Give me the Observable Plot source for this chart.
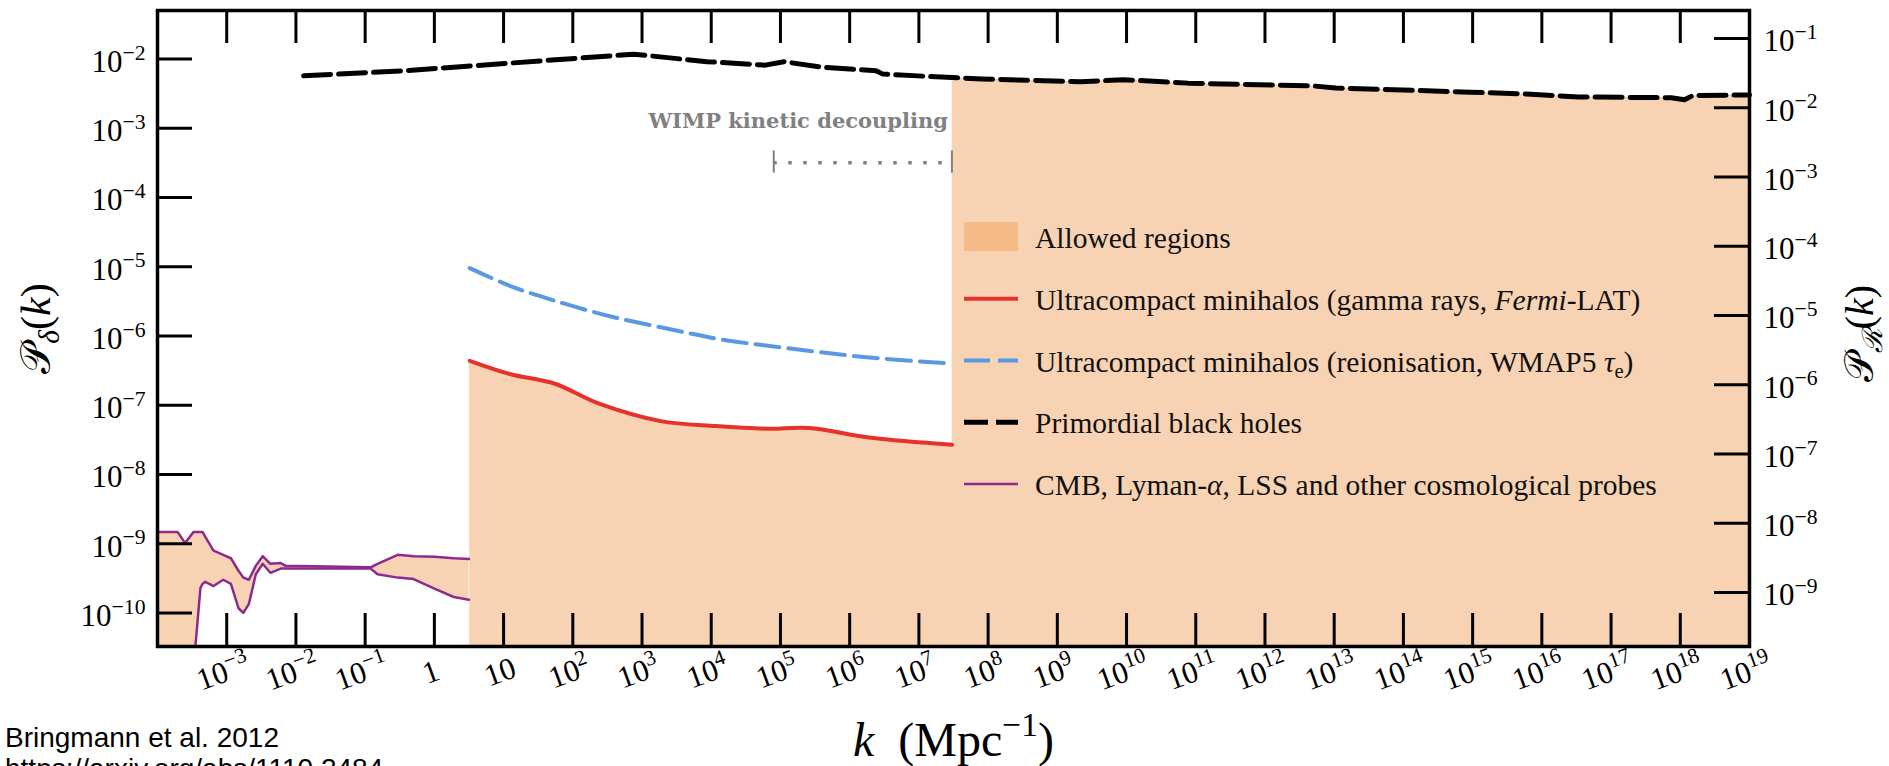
<!DOCTYPE html>
<html><head><meta charset="utf-8">
<script src="https://cdn.jsdelivr.net/npm/d3@7"></script>
<script src="https://cdn.jsdelivr.net/npm/@observablehq/plot@0.6"></script>
<style>
html,body{margin:0;padding:0;background:#fff;overflow:hidden;}
#wrap{position:relative;width:1889px;height:766px;overflow:hidden;}
#caption{position:absolute;left:5px;top:722px;font-family:"Liberation Sans",Arial,sans-serif;font-size:28px;line-height:31px;color:#000;white-space:nowrap;z-index:2;}
</style></head><body>
<div id="wrap"><div id="caption">Bringmann et al. 2012<br>https://arxiv.org/abs/1110.2484</div></div>
<script>
// ---------- data (k in Mpc^-1, P_delta dimensionless) ----------
const pbhK = [1.29e-2, 3.72e-1, 9.12, 7.59e2, 8.71e3, 6.03e4, 1.12e5, 3.98e5, 2.40e6, 3.02e6, 3.02e7, 8.13e7, 2.14e9, 8.91e9, 7.76e10, 5.01e12, 1.05e13, 9.33e14, 6.92e15, 3.39e16, 7.41e17, 1.15e18, 1.51e18, 1e19];
const pbhP = [5.69e-3, 6.76e-3, 8.51e-3, 1.17e-2, 9.12e-3, 8.13e-3, 9.12e-3, 7.59e-3, 6.76e-3, 6.03e-3, 5.37e-3, 5.13e-3, 4.68e-3, 5.01e-3, 4.47e-3, 4.07e-3, 3.80e-3, 3.31e-3, 3.09e-3, 2.82e-3, 2.75e-3, 2.57e-3, 2.95e-3, 3.02e-3];

const redK = [3.24, 12.3, 55.0, 240, 1.86e3, 1.17e4, 6.61e4, 2.57e5, 2.04e6, 3.02e7];
const redP = [4.37e-7, 2.82e-7, 2.04e-7, 1.05e-7, 5.89e-8, 5.01e-8, 4.57e-8, 4.68e-8, 3.39e-8, 2.69e-8];

const blueK = [3.24, 12.6, 53.7, 355, 2.45e3, 1.38e4, 1.12e5, 1.45e6, 3.02e7];
const blueP = [9.55e-6, 5.25e-6, 3.24e-6, 1.91e-6, 1.26e-6, 8.91e-7, 6.76e-7, 5.01e-7, 3.98e-7];

const cmbK  = [1e-4, 1.95e-4, 2.51e-4, 3.31e-4, 3.55e-4, 4.17e-4, 4.47e-4, 4.90e-4, 6.46e-4, 8.91e-4, 1.15e-3, 1.48e-3, 1.74e-3, 2.09e-3, 2.63e-3, 3.31e-3, 4.27e-3, 6.03e-3, 7.08e-3, 0.120, 0.151, 0.295, 0.501, 1.0, 1.91, 3.16];
const cmbHi = [1.48e-9, 1.48e-9, 1.02e-9, 1.48e-9, 1.48e-9, 1.48e-9, 1.48e-9, 1.26e-9, 7.94e-10, 6.92e-10, 6.17e-10, 4.07e-10, 3.24e-10, 3.02e-10, 4.79e-10, 6.61e-10, 5.13e-10, 5.25e-10, 4.79e-10, 4.57e-10, 5.13e-10, 6.92e-10, 6.61e-10, 6.46e-10, 6.17e-10, 6.03e-10];
const cmbLo = [1e-11, 1e-11, 1e-11, 1e-11, 3.55e-11, 2.29e-10, 2.63e-10, 2.82e-10, 2.45e-10, 3.02e-10, 2.63e-10, 1.17e-10, 1.0e-10, 1.35e-10, 3.63e-10, 5.13e-10, 3.80e-10, 4.37e-10, 4.37e-10, 4.37e-10, 3.63e-10, 3.24e-10, 3.09e-10, 2.24e-10, 1.70e-10, 1.55e-10];

const allowedFloor = 1e-11;
const wimpK = [8.0e4, 3.0e7];
const wimpLineP = 3.16e-4;
const wimpCapP = [2.24e-4, 4.7e-4];
const wimpTextP = 1.0e-3;
const wimpLabel = "WIMP kinetic decoupling";

// P_delta = (16/81) P_R  (right axis)
const deltaPerR = 16 / 81;

const xTicks = [1e-3,1e-2,1e-1,1,1e1,1e2,1e3,1e4,1e5,1e6,1e7,1e8,1e9,1e10,1e11,1e12,1e13,1e14,1e15,1e16,1e17,1e18,1e19];
const xTickLabels = ["10^{−3}","10^{−2}","10^{−1}","1","10","10^{2}","10^{3}","10^{4}","10^{5}","10^{6}","10^{7}","10^{8}","10^{9}","10^{10}","10^{11}","10^{12}","10^{13}","10^{14}","10^{15}","10^{16}","10^{17}","10^{18}","10^{19}"];
const yTicksLeft = [1e-2,1e-3,1e-4,1e-5,1e-6,1e-7,1e-8,1e-9,1e-10];
const yTickLabelsLeft = ["10^{−2}","10^{−3}","10^{−4}","10^{−5}","10^{−6}","10^{−7}","10^{−8}","10^{−9}","10^{−10}"];
const yTicksRight = [1e-1,1e-2,1e-3,1e-4,1e-5,1e-6,1e-7,1e-8,1e-9];
const yTickLabelsRight = ["10^{−1}","10^{−2}","10^{−3}","10^{−4}","10^{−5}","10^{−6}","10^{−7}","10^{−8}","10^{−9}"];

const legendLabels = [
  "Allowed regions",
  "Ultracompact minihalos (gamma rays, /{Fermi}-LAT)",
  "Ultracompact minihalos (reionisation, WMAP5 /{τ}_{e})",
  "Primordial black holes",
  "CMB, Lyman-/{α}, LSS and other cosmological probes"
];

// ---------- styling ----------
const F = "'Liberation Serif', 'DejaVu Serif', serif";
const FILL = "#F8D3B3", PATCH = "#F4BA88";
const RED = "#E5322B", BLUE = "#5A98E3", PURPLE = "#8C2A8E", GRAY = "#808080";
const W = 1889 - 157 - 140, H = 766 - 10 - 120;

// ---------- tables ----------
const pbh = pbhK.map((k, i) => ({k, p: pbhP[i]}));
const red = redK.map((k, i) => ({k, p: redP[i]}));
const blue = blueK.map((k, i) => ({k, p: blueP[i]}));
const cmb = cmbK.map((k, i) => ({k, hi: cmbHi[i], lo: cmbLo[i]}));
const redEnd = redK[redK.length - 1];
const allowed = [...red, ...pbh.filter(d => d.k >= redEnd)];

const svg = Plot.plot({
  width: 1889, height: 766,
  marginLeft: 157, marginRight: 140, marginTop: 10, marginBottom: 120,
  x: {type: "log", domain: [1e-4, 1e19], axis: null},
  y: {type: "log", domain: [3.28e-11, 5.0e-2], axis: null},
  style: {fontFamily: F, background: "transparent", overflow: "visible"},
  marks: [
    Plot.areaY(allowed, {x: "k", y1: () => allowedFloor, y2: "p", fill: FILL, clip: true}),
    Plot.areaY(cmb, {x: "k", y1: "lo", y2: "hi", fill: FILL, clip: true}),
    // WIMP annotation
    Plot.ruleY([wimpLineP], {y: d => d, x1: () => wimpK[0], x2: () => wimpK[1], stroke: GRAY, strokeWidth: 3.5, strokeDasharray: "3.5,11.5"}),
    Plot.ruleX(wimpK, {x: d => d, y1: () => wimpCapP[0], y2: () => wimpCapP[1], stroke: GRAY, strokeWidth: 2}),
    Plot.text([wimpLabel], {x: () => wimpK[1], y: () => wimpTextP, text: d => d, textAnchor: "end", lineAnchor: "bottom", dx: -4, fontFamily: "'DejaVu Serif', serif", fontWeight: "bold", fontSize: 21, fill: GRAY}),
    // constraint lines
    Plot.line(cmb, {x: "k", y: "hi", stroke: PURPLE, strokeWidth: 2.5, clip: true}),
    Plot.line(cmb, {x: "k", y: "lo", stroke: PURPLE, strokeWidth: 2.5, clip: true}),
    Plot.line(blue, {x: "k", y: "p", stroke: BLUE, strokeWidth: 4, strokeDasharray: "24,9", curve: "catmull-rom"}),
    Plot.line(red, {x: "k", y: "p", stroke: RED, strokeWidth: 4, curve: "catmull-rom"}),
    Plot.line(pbh, {x: "k", y: "p", stroke: "black", strokeWidth: 5, strokeDasharray: "27,8"}),
    // ticks (inward)
    Plot.tickX(xTicks, {x: d => d, insetTop: H - 33, stroke: "black", strokeWidth: 3}),
    Plot.tickX(xTicks, {x: d => d, insetBottom: H - 33, stroke: "black", strokeWidth: 3}),
    Plot.tickY(yTicksLeft, {y: d => d, insetRight: W - 35, stroke: "black", strokeWidth: 3}),
    Plot.tickY(yTicksRight, {y: d => d * deltaPerR, insetLeft: W - 35, stroke: "black", strokeWidth: 3}),
    Plot.frame({stroke: "black", strokeWidth: 3.5}),
    // tick labels
    Plot.text(xTicks, {x: d => d, text: (d, i) => xTickLabels[i], frameAnchor: "bottom", dy: 35, rotate: -20, textAnchor: "middle", fontSize: 31, fill: "black"}),
    Plot.text(yTicksLeft, {y: d => d, text: (d, i) => yTickLabelsLeft[i], frameAnchor: "left", dx: -12, dy: 13, lineAnchor: "bottom", textAnchor: "end", fontSize: 31, fill: "black"}),
    Plot.text(yTicksRight, {y: d => d * deltaPerR, text: (d, i) => yTickLabelsRight[i], frameAnchor: "right", dx: 14, dy: 13, lineAnchor: "bottom", textAnchor: "start", fontSize: 31, fill: "black"}),
    // axis titles
    Plot.text(["𝒫~{δ}(/{k})"], {text: d => d, frameAnchor: "left", dx: -121, rotate: -90, textAnchor: "middle", fontSize: 42, fill: "black"}),
    Plot.text(["𝒫~{ℛ}(/{k})"], {text: d => d, frameAnchor: "right", dx: 111, dy: 5, rotate: -90, textAnchor: "middle", fontSize: 40, fill: "black"}),
    Plot.text(["/{k}  (Mpc^{−1})"], {text: d => d, frameAnchor: "bottom", dy: 109, lineAnchor: "bottom", textAnchor: "middle", fontSize: 48, fill: "black"})
  ]
});

const wrap = document.getElementById("wrap");
svg.style.position = "absolute"; svg.style.left = "0px"; svg.style.top = "0px";
wrap.insertBefore(svg, wrap.firstChild);

// ---------- legend (inside plot area) ----------
const legendStyles = [
  {type: "patch"},
  {type: "line", color: RED, width: 4, dash: null},
  {type: "line", color: BLUE, width: 4, dash: "26,8"},
  {type: "line", color: "black", width: 5, dash: "24,8"},
  {type: "line", color: PURPLE, width: 2.5, dash: null}
];
const lg = d3.select(svg).append("g").attr("font-family", F).attr("font-size", 29.5).attr("fill", "#111").attr("text-anchor", "start");
legendLabels.forEach((label, i) => {
  const base = 248 + i * 61.75;
  const s = legendStyles[i];
  if (s.type === "patch") {
    lg.append("rect").attr("x", 964).attr("y", base - 26).attr("width", 54).attr("height", 29).attr("fill", PATCH);
  } else {
    const l = lg.append("line").attr("x1", 964).attr("x2", 1018).attr("y1", base - 11).attr("y2", base - 11)
      .attr("stroke", s.color).attr("stroke-width", s.width);
    if (s.dash) l.attr("stroke-dasharray", s.dash);
  }
  lg.append("text").attr("x", 1035).attr("y", base).attr("text-anchor", "start").text(label);
});

// ---------- rich text: ^{sup}, _{sub}, ~{italic sub}, /{italic} ----------
function richify(el) {
  const s = el.textContent;
  const re = /([\^_~\/])\{([^}]*)\}/g;
  if (!re.test(s)) return;
  re.lastIndex = 0;
  const fs = parseFloat(getComputedStyle(el).fontSize) || 16;
  const parts = [];
  let last = 0, m;
  while ((m = re.exec(s))) {
    if (m.index > last) parts.push(["", s.slice(last, m.index)]);
    parts.push([m[1], m[2]]);
    last = re.lastIndex;
  }
  if (last < s.length) parts.push(["", s.slice(last)]);
  while (el.firstChild) el.removeChild(el.firstChild);
  let shift = 0;
  for (const [kind, str] of parts) {
    const t = document.createElementNS("http://www.w3.org/2000/svg", "tspan");
    let target = 0;
    if (kind === "^") { target = -0.4 * fs; t.setAttribute("font-size", (0.7 * fs).toFixed(1)); }
    if (kind === "_" || kind === "~") { target = 0.22 * fs; t.setAttribute("font-size", (0.7 * fs).toFixed(1)); }
    if (kind === "/" || kind === "~") t.setAttribute("font-style", "italic");
    if (Math.abs(target - shift) > 0.01) t.setAttribute("dy", (target - shift).toFixed(1));
    shift = target;
    t.textContent = str;
    el.appendChild(t);
  }
}
svg.querySelectorAll("text").forEach(t => { t.style.whiteSpace = "pre"; richify(t); });
</script>
</body></html>
